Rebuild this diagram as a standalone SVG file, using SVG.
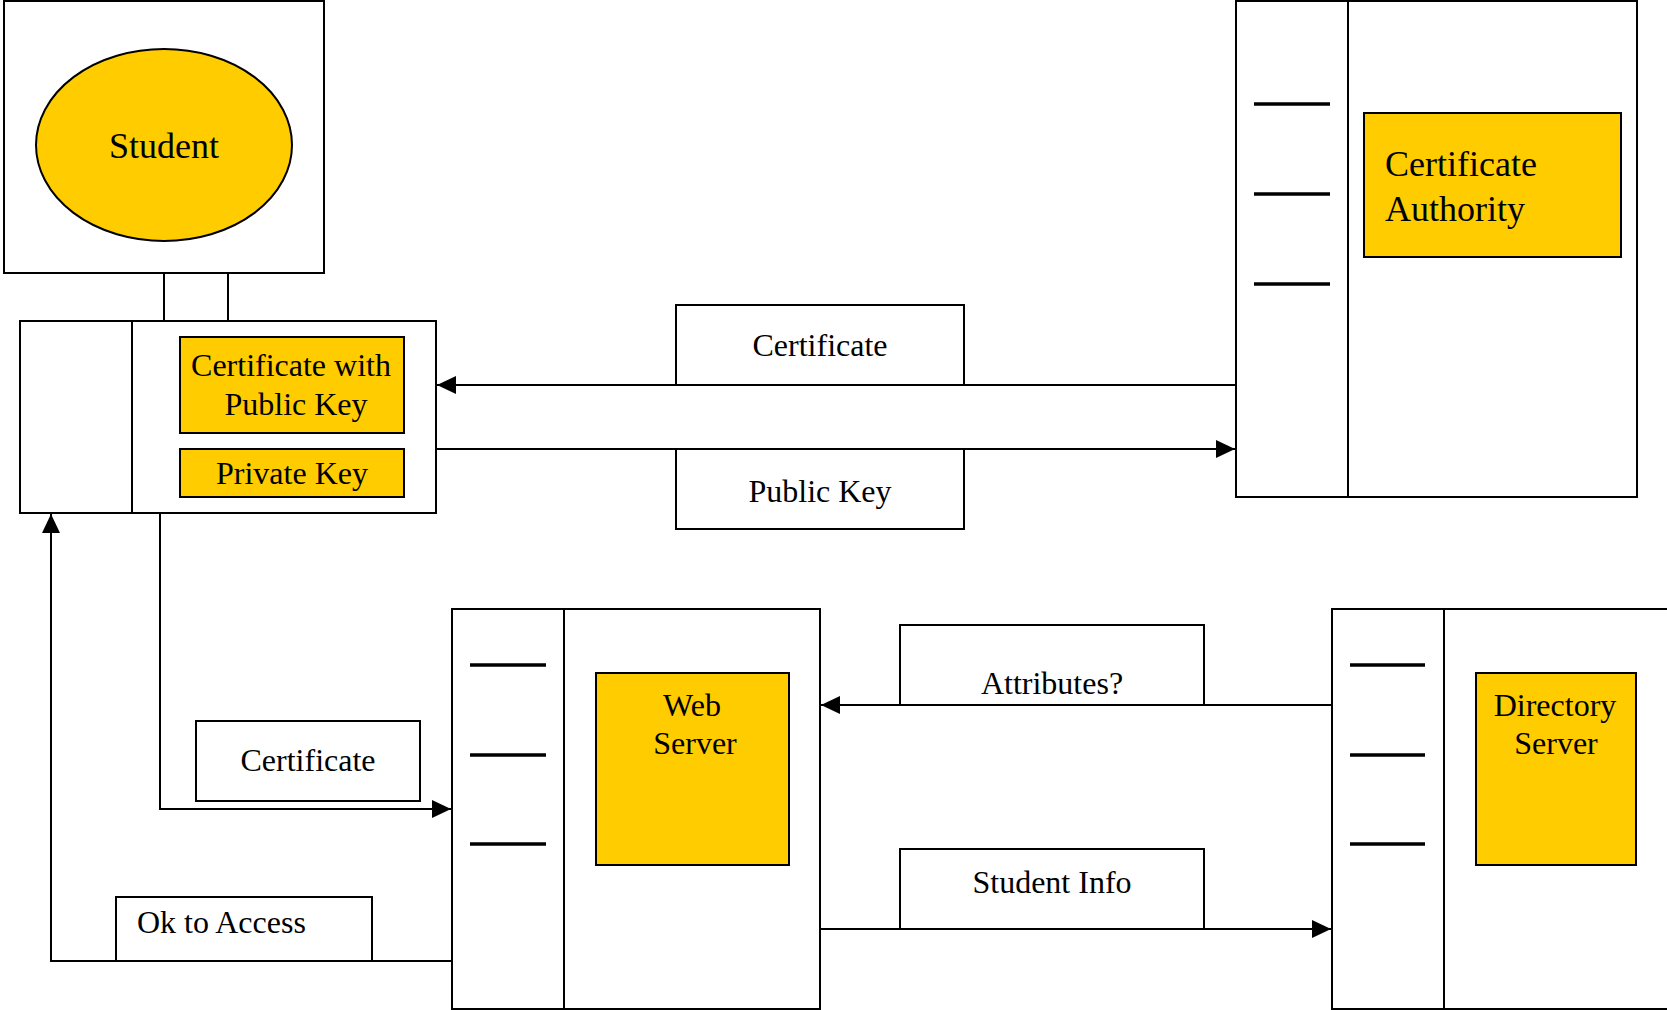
<svg xmlns="http://www.w3.org/2000/svg" width="1667" height="1010" viewBox="0 0 1667 1010">
<style>
.box{fill:#fff;stroke:#000;stroke-width:2}
.y{fill:#FFCC00;stroke:#000;stroke-width:2}
.ln{fill:none;stroke:#000;stroke-width:2}
.tick{stroke:#000;stroke-width:3.5}
text{font-family:"Liberation Serif","Times New Roman",serif;font-size:32px;fill:#000}
.c{text-anchor:middle}
</style>
<defs>
<marker id="ah" markerUnits="userSpaceOnUse" markerWidth="20" markerHeight="20" refX="19" refY="9" orient="auto" viewBox="0 0 20 18">
<path d="M0,0 L19,9 L0,18 z" fill="#000"/>
</marker>
</defs>
<rect width="1667" height="1010" fill="#fff"/>

<g id="connectors">
<line class="ln" x1="164" y1="273" x2="164" y2="321"/>
<line class="ln" x1="228" y1="273" x2="228" y2="321"/>
<line class="ln" x1="1236" y1="385" x2="437" y2="385" marker-end="url(#ah)"/>
<line class="ln" x1="436" y1="449" x2="1235" y2="449" marker-end="url(#ah)"/>
<polyline class="ln" points="160,513 160,809 451,809" marker-end="url(#ah)"/>
<polyline class="ln" points="452,961 51,961 51,514" marker-end="url(#ah)"/>
<line class="ln" x1="1332" y1="705" x2="821" y2="705" marker-end="url(#ah)"/>
<line class="ln" x1="820" y1="929" x2="1331" y2="929" marker-end="url(#ah)"/>
</g>

<g id="student">
<rect class="box" x="4" y="1" width="320" height="272"/>
<ellipse class="y" cx="164" cy="145" rx="128" ry="96"/>
<text class="c" x="164" y="158" style="font-size:36px">Student</text>
</g>

<g id="student-keys">
<rect class="box" x="20" y="321" width="416" height="192"/>
<line class="ln" x1="132" y1="321" x2="132" y2="513"/>
<rect class="y" x="180" y="337" width="224" height="96"/>
<text class="c" x="291" y="376">Certificate with</text>
<text class="c" x="296" y="415">Public Key</text>
<rect class="y" x="180" y="449" width="224" height="48"/>
<text class="c" x="292" y="484">Private Key</text>
</g>

<g id="certificate-authority">
<rect class="box" x="1236" y="1" width="401" height="496"/>
<line class="ln" x1="1348" y1="1" x2="1348" y2="497"/>
<line class="tick" x1="1254" y1="104" x2="1330" y2="104"/>
<line class="tick" x1="1254" y1="194" x2="1330" y2="194"/>
<line class="tick" x1="1254" y1="284" x2="1330" y2="284"/>
<rect class="y" x="1364" y="113" width="257" height="144"/>
<text x="1385" y="176" style="font-size:36px">Certificate</text>
<text x="1385" y="221" style="font-size:36px">Authority</text>
</g>

<g id="label-certificate-top">
<rect class="box" x="676" y="305" width="288" height="80"/>
<text class="c" x="820" y="356">Certificate</text>
</g>

<g id="label-public-key">
<rect class="box" x="676" y="449" width="288" height="80"/>
<text class="c" x="820" y="502">Public Key</text>
</g>

<g id="web-server">
<rect class="box" x="452" y="609" width="368" height="400"/>
<line class="ln" x1="564" y1="609" x2="564" y2="1009"/>
<line class="tick" x1="470" y1="665" x2="546" y2="665"/>
<line class="tick" x1="470" y1="755" x2="546" y2="755"/>
<line class="tick" x1="470" y1="844" x2="546" y2="844"/>
<rect class="y" x="596" y="673" width="193" height="192"/>
<text class="c" x="692" y="716">Web</text>
<text class="c" x="695" y="754">Server</text>
</g>

<g id="directory-server">
<rect class="box" x="1332" y="609" width="345" height="400"/>
<line class="ln" x1="1444" y1="609" x2="1444" y2="1009"/>
<line class="tick" x1="1350" y1="665" x2="1425" y2="665"/>
<line class="tick" x1="1350" y1="755" x2="1425" y2="755"/>
<line class="tick" x1="1350" y1="844" x2="1425" y2="844"/>
<rect class="y" x="1476" y="673" width="160" height="192"/>
<text class="c" x="1555" y="716">Directory</text>
<text class="c" x="1556" y="754">Server</text>
</g>

<g id="label-certificate-bottom">
<rect class="box" x="196" y="721" width="224" height="80"/>
<text class="c" x="308" y="771">Certificate</text>
</g>

<g id="label-ok-to-access">
<rect class="box" x="116" y="897" width="256" height="64"/>
<text x="137" y="933">Ok to Access</text>
</g>

<g id="label-attributes">
<rect class="box" x="900" y="625" width="304" height="80"/>
<text class="c" x="1052" y="694">Attributes?</text>
</g>

<g id="label-student-info">
<rect class="box" x="900" y="849" width="304" height="80"/>
<text class="c" x="1052" y="893">Student Info</text>
</g>
</svg>
